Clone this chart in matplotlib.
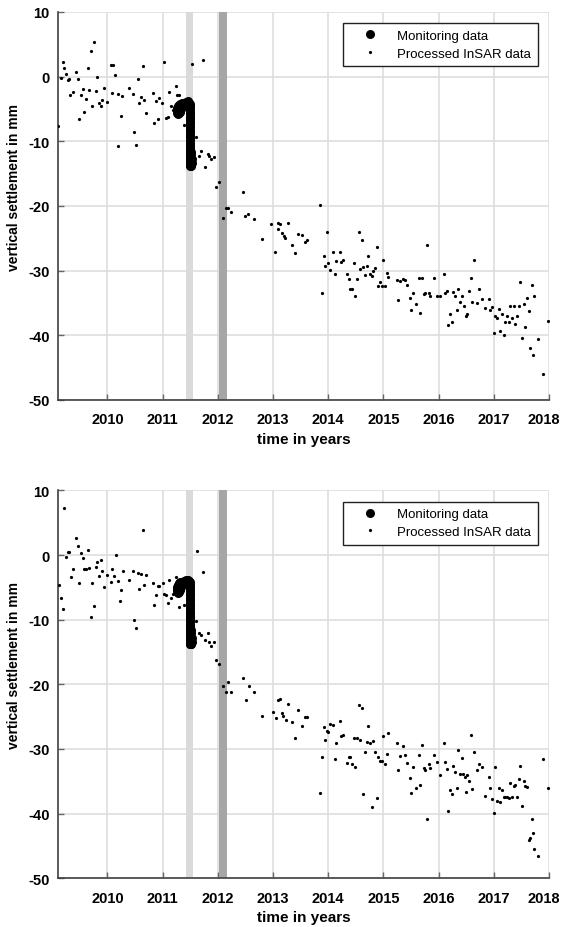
import matplotlib
matplotlib.use("Agg")
import matplotlib.pyplot as plt
import matplotlib.transforms as mtransforms
from matplotlib.lines import Line2D

plt.rcParams["font.family"] = ["Liberation Sans", "DejaVu Sans"]
plt.rcParams["axes.unicode_minus"] = False

# monitoring data (same in both panels)
mon_t = [2011.26, 2011.27, 2011.28, 2011.29, 2011.30, 2011.31, 2011.32, 2011.33, 2011.34,
         2011.35, 2011.36, 2011.37, 2011.38, 2011.39, 2011.40, 2011.41, 2011.42, 2011.43,
         2011.44, 2011.45, 2011.46, 2011.47, 2011.48,
         2011.27, 2011.28, 2011.29, 2011.30, 2011.31, 2011.32, 2011.33,
         2011.49, 2011.49, 2011.495, 2011.495, 2011.49, 2011.495, 2011.495, 2011.49,
         2011.495, 2011.495, 2011.49, 2011.495, 2011.495, 2011.49, 2011.495, 2011.495,
         2011.49, 2011.495, 2011.495, 2011.49, 2011.495, 2011.49, 2011.495,
         2011.49, 2011.50, 2011.51, 2011.49, 2011.50, 2011.52, 2011.49, 2011.51,
         2011.53, 2011.50, 2011.52, 2011.49, 2011.51, 2011.53, 2011.50, 2011.52]
mon_v = [-4.9, -5.2, -4.6, -5.0, -4.4, -4.8, -4.2, -4.7, -4.3, -4.6, -4.1, -4.5, -4.0,
         -4.4, -4.0, -4.3, -3.9, -4.2, -3.9, -4.1, -3.8, -4.0, -4.1,
         -5.6, -5.8, -5.5, -5.7, -5.4, -5.3, -5.0,
         -4.2, -4.6, -5.0, -5.4, -5.8, -6.2, -6.6, -7.0, -7.4, -7.8, -8.2, -8.6, -9.0,
         -9.4, -9.8, -10.2, -10.6, -11.0, -11.4, -11.8, -12.2, -12.6, -13.0,
         -11.5, -11.3, -11.6, -12.4, -12.2, -12.0, -13.2, -13.0, -12.8, -13.7, -13.5,
         -13.6, -13.8, -13.4, -13.8, -13.7]

# processed InSAR data, upper panel
top_t = [2009.11, 2009.16, 2009.19, 2009.21, 2009.25, 2009.28, 2009.31, 2009.33, 2009.37,
         2009.43, 2009.46, 2009.49, 2009.52, 2009.55, 2009.58, 2009.61, 2009.64, 2009.67,
         2009.70, 2009.73, 2009.76, 2009.79, 2009.82, 2009.85, 2009.88, 2009.90, 2009.93,
         2009.99, 2010.06, 2010.08, 2010.11, 2010.14, 2010.19, 2010.20, 2010.24, 2010.27,
         2010.40, 2010.46, 2010.49, 2010.52, 2010.55, 2010.58, 2010.61, 2010.64, 2010.67,
         2010.70, 2010.82, 2010.85, 2010.88, 2010.91, 2010.94, 2010.99, 2011.03, 2011.06,
         2011.09, 2011.12, 2011.15, 2011.18, 2011.24, 2011.27, 2011.30, 2011.39, 2011.54,
         2011.60, 2011.66, 2011.70, 2011.73, 2011.77, 2011.83, 2011.85, 2011.88, 2011.94,
         2011.97, 2012.03, 2012.09, 2012.15, 2012.18, 2012.24, 2012.45, 2012.50, 2012.55,
         2012.66, 2012.80, 2012.97, 2013.04, 2013.09, 2013.10, 2013.13, 2013.16, 2013.20,
         2013.22, 2013.28, 2013.34, 2013.40, 2013.46, 2013.52, 2013.58, 2013.61, 2013.85,
         2013.88, 2013.92, 2013.95, 2013.98, 2014.00, 2014.03, 2014.09, 2014.12, 2014.15,
         2014.21, 2014.24, 2014.27, 2014.34, 2014.37, 2014.40, 2014.43, 2014.46, 2014.49,
         2014.52, 2014.55, 2014.58, 2014.61, 2014.64, 2014.67, 2014.70, 2014.73, 2014.76,
         2014.79, 2014.82, 2014.85, 2014.88, 2014.91, 2014.94, 2014.97, 2015.00, 2015.03,
         2015.06, 2015.09, 2015.24, 2015.27, 2015.30, 2015.36, 2015.39, 2015.42, 2015.48,
         2015.51, 2015.54, 2015.60, 2015.64, 2015.67, 2015.70, 2015.73, 2015.76, 2015.79,
         2015.82, 2015.85, 2015.91, 2015.97, 2016.03, 2016.09, 2016.12, 2016.15, 2016.18,
         2016.21, 2016.24, 2016.27, 2016.30, 2016.33, 2016.36, 2016.39, 2016.42, 2016.46,
         2016.49, 2016.52, 2016.55, 2016.58, 2016.61, 2016.64, 2016.70, 2016.73, 2016.79,
         2016.85, 2016.91, 2016.94, 2016.97, 2017.00, 2017.03, 2017.06, 2017.09, 2017.12,
         2017.15, 2017.18, 2017.21, 2017.24, 2017.27, 2017.30, 2017.33, 2017.36, 2017.39,
         2017.42, 2017.45, 2017.48, 2017.51, 2017.54, 2017.57, 2017.60, 2017.63, 2017.66,
         2017.69, 2017.72, 2017.73, 2017.81, 2017.90, 2017.99]
top_v = [-7.7, -0.2, 2.3, 1.4, 0.4, -0.5, -0.4, -2.9, -2.4,
         0.7, -0.3, -6.5, -2.9, -1.9, -5.5, -3.5, 1.4, -2.0,
         3.9, -4.6, 5.3, -2.2, -0.1, -4.0, -4.5, -3.6, -1.8,
         -3.9, 1.8, -2.6, 1.8, 0.3, -2.7, -10.7, -6.1, -3.0,
         -1.8, -2.7, -8.6, -10.5, -0.3, -4.1, -3.1, 1.6, -3.6,
         -5.6, -2.5, -7.2, -3.7, -6.5, -3.3, -4.1, 2.3, -6.4,
         -6.3, -2.3, -4.6, -5.2, -1.4, -2.9, -2.8, -7.5, 2.0,
         -9.3, -12.2, -11.5, 2.5, -13.9, -12.0, -12.3, -12.7, -12.4,
         -17.0, -16.3, -21.8, -20.3, -20.3, -21.0, -17.9, -21.5, -21.3,
         -22.0, -25.1, -22.8, -27.2, -22.7, -23.5, -22.8, -24.2, -24.6,
         -25.0, -22.6, -26.1, -27.3, -24.4, -24.5, -25.5, -25.3, -19.9,
         -33.4, -27.7, -29.3, -24.0, -28.8, -29.9, -27.2, -30.6, -28.5,
         -27.1, -28.6, -28.4, -30.5, -31.3, -32.8, -32.9, -28.9, -33.9,
         -31.3, -24.0, -29.8, -25.2, -29.5, -30.7, -29.3, -27.7, -30.5,
         -30.8, -30.1, -29.6, -26.3, -32.4, -31.7, -32.4, -28.3, -32.4,
         -30.4, -31.0, -31.4, -34.6, -31.6, -31.3, -31.4, -32.2, -34.3,
         -36.1, -33.4, -35.2, -31.2, -36.6, -31.2, -33.6, -33.4, -26.1,
         -33.5, -34.0, -31.2, -33.9, -33.9, -30.5, -33.4, -33.1, -38.4,
         -36.7, -38.0, -33.3, -33.9, -36.1, -32.9, -34.8, -33.9, -35.4,
         -37.0, -36.7, -33.2, -31.1, -34.8, -28.3, -35.0, -32.9, -34.4,
         -35.8, -34.4, -36.1, -35.7, -39.7, -37.0, -37.4, -35.9, -39.3,
         -36.7, -40.0, -37.9, -37.1, -37.9, -35.4, -37.3, -35.4, -38.3,
         -37.1, -35.4, -31.8, -40.5, -35.2, -38.7, -34.3, -36.3, -41.9,
         -32.2, -43.0, -33.9, -40.6, -46.0, -37.8]

# processed InSAR data, lower panel
bot_t = [2009.13, 2009.16, 2009.19, 2009.22, 2009.25, 2009.28, 2009.31, 2009.34, 2009.37,
         2009.43, 2009.46, 2009.49, 2009.52, 2009.55, 2009.58, 2009.61, 2009.64, 2009.67,
         2009.70, 2009.73, 2009.76, 2009.79, 2009.82, 2009.85, 2009.88, 2009.91, 2009.94,
         2010.00, 2010.06, 2010.09, 2010.12, 2010.16, 2010.19, 2010.22, 2010.25, 2010.28,
         2010.40, 2010.46, 2010.49, 2010.52, 2010.55, 2010.58, 2010.61, 2010.64, 2010.67,
         2010.70, 2010.82, 2010.85, 2010.88, 2010.91, 2010.94, 2011.00, 2011.03, 2011.06,
         2011.09, 2011.12, 2011.15, 2011.18, 2011.24, 2011.30, 2011.39, 2011.60, 2011.63,
         2011.66, 2011.70, 2011.73, 2011.76, 2011.82, 2011.85, 2011.88, 2011.94, 2011.97,
         2012.03, 2012.09, 2012.15, 2012.18, 2012.24, 2012.45, 2012.51, 2012.56, 2012.66,
         2012.80, 2013.00, 2013.05, 2013.09, 2013.13, 2013.16, 2013.19, 2013.23, 2013.28,
         2013.34, 2013.40, 2013.46, 2013.52, 2013.58, 2013.61, 2013.85, 2013.88, 2013.92,
         2013.95, 2013.98, 2014.00, 2014.03, 2014.09, 2014.12, 2014.15, 2014.21, 2014.24,
         2014.27, 2014.34, 2014.37, 2014.40, 2014.43, 2014.46, 2014.49, 2014.52, 2014.55,
         2014.58, 2014.61, 2014.64, 2014.67, 2014.70, 2014.73, 2014.76, 2014.79, 2014.82,
         2014.85, 2014.88, 2014.91, 2014.94, 2014.97, 2015.00, 2015.03, 2015.06, 2015.09,
         2015.24, 2015.27, 2015.30, 2015.36, 2015.39, 2015.42, 2015.48, 2015.51, 2015.54,
         2015.60, 2015.64, 2015.67, 2015.70, 2015.73, 2015.76, 2015.79, 2015.82, 2015.85,
         2015.91, 2015.97, 2016.03, 2016.09, 2016.12, 2016.15, 2016.18, 2016.21, 2016.24,
         2016.27, 2016.30, 2016.33, 2016.36, 2016.39, 2016.42, 2016.45, 2016.48, 2016.50,
         2016.52, 2016.55, 2016.58, 2016.61, 2016.64, 2016.70, 2016.73, 2016.79, 2016.85,
         2016.91, 2016.94, 2016.97, 2017.00, 2017.03, 2017.06, 2017.09, 2017.12, 2017.15,
         2017.18, 2017.21, 2017.24, 2017.27, 2017.30, 2017.33, 2017.36, 2017.39, 2017.42,
         2017.45, 2017.48, 2017.51, 2017.54, 2017.57, 2017.60, 2017.63, 2017.66, 2017.69,
         2017.72, 2017.73, 2017.80, 2017.89, 2017.99]
bot_v = [-4.6, -6.7, -8.3, 7.3, -0.3, 0.4, 0.4, -3.4, -2.1,
         2.7, 1.4, -4.3, 0.3, -0.4, -2.1, -2.1, 0.8, -2.0,
         -9.6, -4.3, -7.9, -1.8, -1.1, -3.2, -0.8, -2.4, -4.9,
         -3.1, -4.1, -2.1, -3.2, 0.0, -4.0, -7.1, -5.4, -2.5,
         -3.9, -2.5, -10.1, -11.3, -2.8, -5.2, -3.0, 3.9, -4.6,
         -3.1, -4.4, -7.7, -6.2, -4.8, -4.8, -4.4, -6.1, -6.2,
         -7.4, -3.9, -6.6, -6.1, -3.4, -8.1, -7.8, -10.2, 0.7,
         -12.0, -12.4, -2.6, -13.1, -12.0, -13.4, -14.1, -13.4, -16.3,
         -16.8, -20.2, -21.2, -19.7, -21.2, -19.0, -22.5, -20.2, -21.2,
         -24.9, -24.3, -25.2, -22.5, -22.2, -24.5, -24.9, -25.5, -23.0,
         -25.8, -28.3, -23.9, -26.4, -25.1, -25.1, -36.8, -31.2, -26.6,
         -28.6, -27.2, -27.3, -26.1, -26.3, -31.5, -29.0, -25.7, -28.0,
         -27.8, -32.2, -31.2, -31.2, -32.3, -28.3, -32.8, -28.3, -23.2,
         -28.6, -23.6, -37.0, -30.4, -28.9, -26.5, -29.0, -39.0, -28.8,
         -30.4, -37.6, -31.3, -31.8, -31.9, -28.0, -32.4, -30.7, -27.5,
         -29.1, -33.2, -31.1, -29.5, -30.9, -32.2, -34.5, -36.8, -32.8,
         -36.1, -31.0, -35.5, -29.4, -32.9, -33.3, -40.9, -32.3, -33.0,
         -31.0, -32.0, -34.0, -29.0, -32.0, -33.1, -39.6, -36.3, -37.0,
         -32.6, -33.5, -36.0, -30.2, -33.8, -31.4, -33.8, -34.4, -36.7,
         -34.1, -35.0, -27.8, -36.2, -30.4, -33.2, -32.4, -32.8, -37.3,
         -34.3, -36.0, -37.7, -39.9, -32.8, -38.0, -36.1, -38.2, -36.3,
         -37.5, -37.4, -37.4, -37.6, -35.2, -37.5, -35.8, -35.5, -37.5,
         -34.6, -32.6, -38.8, -35.0, -35.8, -35.9, -44.1, -43.7, -40.9,
         -43.0, -45.5, -46.6, -31.6, -36.0]

panels = [(top_t, top_v), (bot_t, bot_v)]

year_ticks = [2010, 2011, 2012, 2013, 2014, 2015, 2016, 2017, 2018]
mm_ticks = [10, 0, -10, -20, -30, -40, -50]

fig = plt.figure(figsize=(5.63, 9.28), dpi=100)
axes_pos = [[0.103, 0.568, 0.872, 0.418], [0.103, 0.0525, 0.872, 0.418]]

tick_font = dict(fontsize=10.5, fontweight="bold")
axs = []

for pos, (it, iv) in zip(axes_pos, panels):
    ax = fig.add_axes(pos)
    axs.append(ax)
    ax.set_xlim(2009.105, 2018)
    ax.set_ylim(-50, 10)

    # time windows
    ax.axvspan(2011.42, 2011.56, color="#dadada", lw=0, zorder=1)
    ax.axvspan(2012.02, 2012.16, color="#a6a6a6", lw=0, zorder=1)

    ax.plot(mon_t, mon_v, "o", color="black", ms=6.5, mew=0, zorder=3)
    ax.plot(it, iv, "o", color="black", ms=2.3, mew=0, zorder=4)

    ax.set_xticks(year_ticks)
    ax.set_xticklabels([str(y) for y in year_ticks], **tick_font)
    ax.set_yticks(mm_ticks)
    ax.set_yticklabels([str(v) for v in mm_ticks], **tick_font)

    ax.grid(True, color="#dedede", lw=1.2)
    ax.set_axisbelow(True)
    for s in ["top", "right"]:
        ax.spines[s].set_visible(False)
    for s in ["left", "bottom"]:
        ax.spines[s].set_color("#404040")
        ax.spines[s].set_linewidth(1.2)
    ax.tick_params(direction="in", length=4, width=1, color="#666666")
    ax.tick_params(axis="x", pad=9)
    ax.tick_params(axis="y", pad=6)

    ax.set_xlabel("time in years", fontsize=11, fontweight="bold", labelpad=4)
    ax.set_ylabel("vertical settlement in mm", fontsize=10, fontweight="bold")
    ax.yaxis.set_label_coords(-0.075, 0.55)

    handles = [
        Line2D([], [], ls="none", marker="o", color="black", ms=6.5, mew=0),
        Line2D([], [], ls="none", marker="o", color="black", ms=2.3, mew=0),
    ]
    leg = ax.legend(handles, ["Monitoring data", "Processed InSAR data"],
                    loc="upper right", fontsize=9.5, frameon=True, fancybox=False,
                    framealpha=1, edgecolor="#222222", borderaxespad=0.85,
                    handletextpad=0.6, handlelength=3.0, labelspacing=0.4,
                    borderpad=0.5)
    leg.get_frame().set_linewidth(1.0)

# the "2018" label sits on the right edge: nudge it in after the ticks exist
fig.canvas.draw()
for ax in axs:
    last = ax.xaxis.get_major_ticks()[-1].label1
    last.set_transform(last.get_transform() +
                       mtransforms.ScaledTranslation(-4 / 72, 0, fig.dpi_scale_trans))

fig.savefig("out.png", dpi=100)
